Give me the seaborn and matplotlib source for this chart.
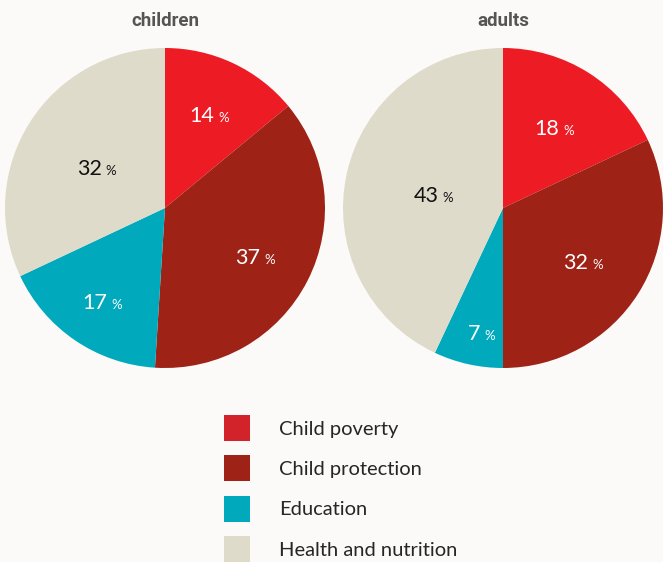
import numpy as np
import seaborn as sns
import matplotlib.pyplot as plt
from matplotlib.patches import Patch

# data
categories = ['Child poverty', 'Child protection', 'Education', 'Health and nutrition']
children = [14, 37, 17, 32]
adults = [18, 32, 7, 43]
titles = ['children', 'adults']

colors = ['#ED1C24', '#9E2216', '#00A9BB', '#DFDBCB']
legend_colors = ['#D2232A', '#9E2216', '#00A9BB', '#DFDBCB']
text_colors = ['white', 'white', 'white', '#111111']
# radial position of each percentage label (fraction of the radius)
label_dist = [[0.66, 0.64, 0.69, 0.50], [0.61, 0.60, 0.78, 0.44]]

sns.set_theme(style='white')
plt.rcParams['font.family'] = ['Lato', 'DejaVu Sans']
bg = '#FBFAF8'

fig = plt.figure(figsize=(6.63, 5.62), dpi=100, facecolor=bg)
W, H = 663, 562
rects = [(5, 48, 320), (343, 48, 320)]

for k, vals in enumerate([children, adults]):
    x0, y0, d = rects[k]
    ax = fig.add_axes([x0 / W, 1 - (y0 + d) / H, d / W, d / H])
    ax.set_facecolor(bg)
    wedges, _ = ax.pie(vals, colors=colors, startangle=90, counterclock=False,
                       radius=1, wedgeprops={'linewidth': 0})
    ax.set_xlim(-1, 1)
    ax.set_ylim(-1, 1)
    ax.set_aspect('equal')
    ax.axis('off')
    for i, w in enumerate(wedges):
        ang = np.deg2rad((w.theta1 + w.theta2) / 2)
        r = label_dist[k][i]
        x, y = r * np.cos(ang), r * np.sin(ang)
        ax.annotate(f'{vals[i]}', (x, y), xytext=(3, -7), textcoords='offset points',
                    ha='right', va='baseline', fontsize=15.5, color=text_colors[i])
        ax.annotate('%', (x, y), xytext=(6, -7), textcoords='offset points',
                    ha='left', va='baseline', fontsize=9.5, color=text_colors[i])
    fig.text((x0 + d / 2) / W, 1 - 21 / H, titles[k], ha='center', va='center',
             fontsize=13.5, fontweight='bold', color='#555555',
             family=['Roboto', 'DejaVu Sans'])

handles = [Patch(facecolor=c, edgecolor='none') for c in legend_colors]
fig.legend(handles, categories, loc='upper left', bbox_to_anchor=(216 / W, 1 - 407 / H),
           frameon=False, fontsize=14.5, handlelength=1.3, handleheight=1.6,
           handletextpad=1.45, labelspacing=0.72, borderaxespad=0)

fig.savefig('out.png', dpi=100, facecolor=bg)
